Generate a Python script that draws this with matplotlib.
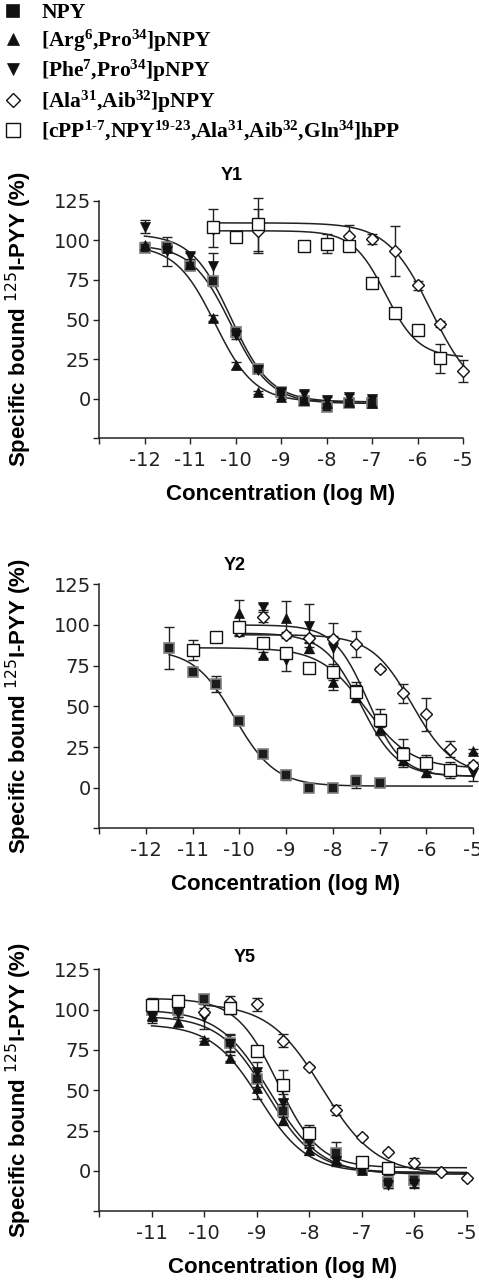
# NPY analogue competition binding curves at Y1, Y2 and Y5 receptors
import numpy as np
import matplotlib
matplotlib.use("Agg")
import matplotlib.pyplot as plt
from matplotlib.font_manager import FontProperties
from matplotlib.lines import Line2D

plt.rcParams['font.family'] = ['Liberation Sans', 'DejaVu Sans']
plt.rcParams['axes.unicode_minus'] = False
plt.rcParams['mathtext.fontset'] = 'custom'
plt.rcParams['mathtext.rm'] = 'Liberation Serif:bold'
plt.rcParams['mathtext.it'] = 'Liberation Serif:bold'
plt.rcParams['mathtext.bf'] = 'Liberation Serif:bold'

labels = ['NPY',
          r'[Arg$^{6}$,Pro$^{34}$]pNPY',
          r'[Phe$^{7}$,Pro$^{34}$]pNPY',
          r'[Ala$^{31}$,Aib$^{32}$]pNPY',
          r'[cPP$^{1\text{-}7}$,NPY$^{19\text{-}23}$,Ala$^{31}$,Aib$^{32}$,Gln$^{34}$]hPP']

# ---- Y1 ----
y1_x_npy = [-12, -11.5, -11, -10.5, -10, -9.5, -9, -8.5, -8, -7.5, -7]
y1_npy = [95, 96, 84, 74, 42, 19, 4, -1.5, -5, -2.5, -2.5]
y1_npy_err = [2, 3, 3, 3, 3, 3, 2, 2, 2, 2, 2]
y1_x_arg = [-12, -11.5, -11, -10.5, -10, -9.5, -9, -8.5, -8, -7.5, -7]
y1_arg = [97, 95, 85, 51, 21, 4, 1, -1, -3, -2, -3]
y1_arg_err = [2, 2, 2, 2, 2, 1, 1, 1, 1, 1, 1]
y1_x_phe = [-12, -11.5, -11, -10.5, -10, -9.5, -9, -8.5, -8, -7.5, -7]
y1_phe = [108.6, 93, 90, 84, 40, 18, 4, 3, -1, 1, 0]
y1_phe_err = [4, 9, 2, 8, 2, 2, 2, 2, 2, 2, 2]
y1_x_ala = [-10.5, -9.5, -8.5, -7.5, -7, -6.5, -6, -5.5, -5]
y1_ala = [107.6, 106, 96.6, 102.7, 100.8, 93.2, 71.6, 47, 17.5]
y1_ala_err = [12, 14, 2, 7, 3, 16, 3, 2, 7]
y1_x_cpp = [-10.5, -10, -9.5, -8.5, -8, -7.5, -7, -6.5, -6, -5.5]
y1_cpp = [108.6, 102, 110, 96.6, 97.7, 96.4, 73.2, 54.3, 43.4, 25.5]
y1_cpp_err = [3, 1, 17, 2, 6, 3, 1, 1, 1, 9]

# ---- Y2 ----
y2_x_npy = [-11.5, -11, -10.5, -10, -9.5, -9, -8.5, -8, -7.5, -7]
y2_npy = [85.7, 71, 63.7, 41, 20.7, 7.8, 0, 0, 4, 3]
y2_npy_err = [13, 2, 5, 2, 2, 3, 1, 1, 4, 1]
y2_x_arg = [-10, -9.5, -9, -8.5, -8, -7.5, -7, -6.5, -6, -5.5, -5]
y2_arg = [107.6, 81.6, 104.5, 86, 65, 55.6, 35.9, 17, 9.8, 10.7, 22.5]
y2_arg_err = [8, 2, 10, 3, 5, 3, 2, 4, 3, 3, 1]
y2_x_phe = [-10, -9.5, -9, -8.5, -8, -7.5, -7, -6.5, -6, -5.5, -5]
y2_phe = [98, 111, 78.5, 99.6, 86, 60, 40.6, 22, 15, 10.9, 9]
y2_phe_err = [4, 2, 7, 13, 15, 5, 8, 8, 5, 5, 5]
y2_x_ala = [-10, -9.5, -9, -8.5, -8, -7.5, -7, -6.5, -6, -5.5, -5]
y2_ala = [96, 104.7, 93.9, 91.8, 91.4, 88.3, 73, 58, 45, 23.6, 14]
y2_ala_err = [3, 3, 2, 2, 2, 8, 1, 6, 10, 5, 2]
y2_x_cpp = [-11, -10.5, -10, -9.5, -9, -8.5, -8, -7.5, -7, -6.5, -6, -5.5]
y2_cpp = [84.6, 92.4, 98.6, 88.7, 82.6, 73.4, 71.3, 59, 41.6, 21, 15, 10.9]
y2_cpp_err = [6, 1, 3, 2, 3, 1, 5, 4, 4, 3, 3, 3]

# ---- Y5 ----
y5_x_npy = [-11, -10.5, -10, -9.5, -9, -8.5, -8, -7.5, -7, -6.5, -6]
y5_npy = [100, 100, 106.7, 79.6, 56.9, 37.4, 19.7, 11, 1.7, -6.6, -5.6]
y5_npy_err = [7, 3, 3, 5, 5, 4, 5, 7, 2, 4, 5]
y5_x_arg = [-11, -10.5, -10, -9.5, -9, -8.5, -8, -7.5, -7]
y5_arg = [96.8, 92.6, 81.3, 69.9, 51.3, 31.6, 13, 6.8, 0.6]
y5_arg_err = [3, 3, 1, 2, 7, 3, 3, 2, 2]
y5_x_phe = [-11, -10.5, -10, -9.5, -9, -8.5, -8, -7.5, -7, -6.5, -6]
y5_phe = [95.7, 98.2, 95.7, 79, 61.6, 42, 18, 6.2, 0.6, -8.7, -8]
y5_phe_err = [4, 3, 8, 5, 6, 6, 4, 3, 2, 2, 2]
y5_x_ala = [-10, -9.5, -9, -8.5, -8, -7.5, -7, -6.5, -6, -5.5, -5]
y5_ala = [98.8, 104.6, 103.4, 80.6, 64.7, 37.8, 21.3, 12, 4.8, -0.4, -4.5]
y5_ala_err = [2, 4, 4, 4, 1, 3, 1, 1, 3, 1, 1]
y5_x_cpp = [-11, -10.5, -9.5, -9, -8.5, -8, -7, -6.5]
y5_cpp = [103, 105.5, 101.3, 74.6, 53.3, 23.8, 5.8, 2]
y5_cpp_err = [2, 2, 4, 2, 9, 5, 3, 1]

# fitted sigmoid parameters: top, bottom, logIC50, hill, fit range
y1_fits = [(97, -3, -10.1, 1.0, -12, -7), (97, -2, -10.45, 1.0, -12, -7),
           (104, -2, -10.1, 1.0, -12, -7), (111, 0, -5.7, 0.9, -10.5, -5),
           (106, 26, -6.7, 1.2, -10.5, -5)]
y2_fits = [(85, 1, -10.1, 1.0, -11.5, -5), (95, 7, -7.4, 1.1, -10, -5),
           (100, 7, -7.25, 1.2, -10, -5), (94, 8, -6.3, 1.0, -10, -5),
           (86, 12, -7.3, 0.9, -11, -5)]
y5_fits = [(100, -2, -8.75, 0.9, -11, -5), (91, -1, -8.95, 0.95, -11, -5),
           (96, -1, -8.8, 0.95, -11, -5), (104, -2, -7.75, 0.85, -10, -5),
           (107, 2, -8.6, 1.1, -11, -5)]

styles = [dict(marker='s', ms=7.5, mfc='#1c1c1c', mec='#808080', mew=1.2),
          dict(marker='^', ms=7.5, mfc='#111111', mec='#111111', mew=0.5),
          dict(marker='v', ms=7.5, mfc='#111111', mec='#111111', mew=0.5),
          dict(marker='D', ms=6, mfc='white', mec='#111111', mew=1.0),
          dict(marker='s', ms=8.5, mfc='white', mec='#111111', mew=1.0)]


def sigmoid(x, top, bottom, logic50, hill):
    return bottom + (top - bottom) / (1 + 10 ** (hill * (x - logic50)))


def draw_panel(ax, title, tx, ty, xs, ys, errs, fits, xmin):
    for (top, bottom, ic, hill, a, b) in fits:
        xx = np.linspace(a, b, 200)
        ax.plot(xx, sigmoid(xx, top, bottom, ic, hill), color='#222222', lw=1.1, zorder=2)
    for x, y, e in zip(xs, ys, errs):
        ax.errorbar(x, y, yerr=e, fmt='none', ecolor='#222222', elinewidth=1.0,
                    capsize=3.5, capthick=1.0, zorder=3, clip_on=False)
    for x, y, st in zip(xs, ys, styles):
        ax.plot(x, y, ls='none', zorder=4, clip_on=False, **st)
    ax.set_xlim(xmin, -5)
    ax.set_ylim(-25, 125)
    xt = list(range(xmin, -4))
    ax.set_xticks(xt)
    ax.set_xticklabels([''] + [str(v) for v in xt[1:]])
    yt = [-25, 0, 25, 50, 75, 100, 125]
    ax.set_yticks(yt)
    ax.set_yticklabels([''] + [str(v) for v in yt[1:]])
    for lab in ax.get_xticklabels() + ax.get_yticklabels():
        lab.set_family('DejaVu Sans')
    for s in ['top', 'right']:
        ax.spines[s].set_visible(False)
    for s in ['left', 'bottom']:
        ax.spines[s].set_linewidth(1.1)
        ax.spines[s].set_color('#222222')
    ax.tick_params(direction='out', length=4, width=1.0, colors='#222222', labelsize=14)
    ax.tick_params(axis='x', pad=5)
    ax.tick_params(axis='y', pad=2)
    ax.set_xlabel('Concentration (log M)', fontsize=16, fontweight='bold', labelpad=10)
    ax.set_ylabel(r'Specific bound $^{125}$I-PYY (%)', fontsize=16, fontweight='bold',
                  math_fontfamily='dejavusans')
    ax.text(tx, ty, title, transform=ax.transAxes, ha='center', va='center',
            fontsize=13, fontweight='bold')


fig = plt.figure(figsize=(4.79, 12.82), dpi=100)
W, H = 479.0, 1282.0
ax1 = fig.add_axes([99 / W, 1 - 438.3 / H, 364 / W, 237.6 / H])
ax2 = fig.add_axes([99 / W, 1 - 828.4 / H, 374 / W, 244.1 / H])
ax5 = fig.add_axes([99 / W, 1 - 1211.3 / H, 368 / W, 242.0 / H])

draw_panel(ax1, 'Y1', 0.365, 1.108,
           [y1_x_npy, y1_x_arg, y1_x_phe, y1_x_ala, y1_x_cpp],
           [y1_npy, y1_arg, y1_phe, y1_ala, y1_cpp],
           [y1_npy_err, y1_arg_err, y1_phe_err, y1_ala_err, y1_cpp_err], y1_fits, -13)
draw_panel(ax2, 'Y2', 0.364, 1.075,
           [y2_x_npy, y2_x_arg, y2_x_phe, y2_x_ala, y2_x_cpp],
           [y2_npy, y2_arg, y2_phe, y2_ala, y2_cpp],
           [y2_npy_err, y2_arg_err, y2_phe_err, y2_ala_err, y2_cpp_err], y2_fits, -13)
draw_panel(ax5, 'Y5', 0.397, 1.047,
           [y5_x_npy, y5_x_arg, y5_x_phe, y5_x_ala, y5_x_cpp],
           [y5_npy, y5_arg, y5_phe, y5_ala, y5_cpp],
           [y5_npy_err, y5_arg_err, y5_phe_err, y5_ala_err, y5_cpp_err], y5_fits, -12)

# ylabel anchor is the right edge of the rotated text
for ax, w in [(ax1, 364), (ax2, 374), (ax5, 368)]:
    ax.yaxis.set_label_coords((34 - 99) / w, 0.5)

handles = []
for st in styles:
    s = dict(st)
    s['ms'] = s['ms'] * 1.15
    if s['marker'] == 's' and s['mfc'] != 'white':
        s['mec'] = '#111111'
        s['mfc'] = '#111111'
    handles.append(Line2D([], [], ls='none', **s))
lp = FontProperties(family='Liberation Serif', weight='bold', size=15.5, math_fontfamily='custom')
fig.legend(handles, labels, loc='upper left', bbox_to_anchor=(0.005, 1 - 3 / H),
           frameon=False, prop=lp, handlelength=1.0, handletextpad=0.8,
           borderaxespad=0, borderpad=0, labelspacing=0.2, numpoints=1)

fig.savefig('out.png', dpi=100)
